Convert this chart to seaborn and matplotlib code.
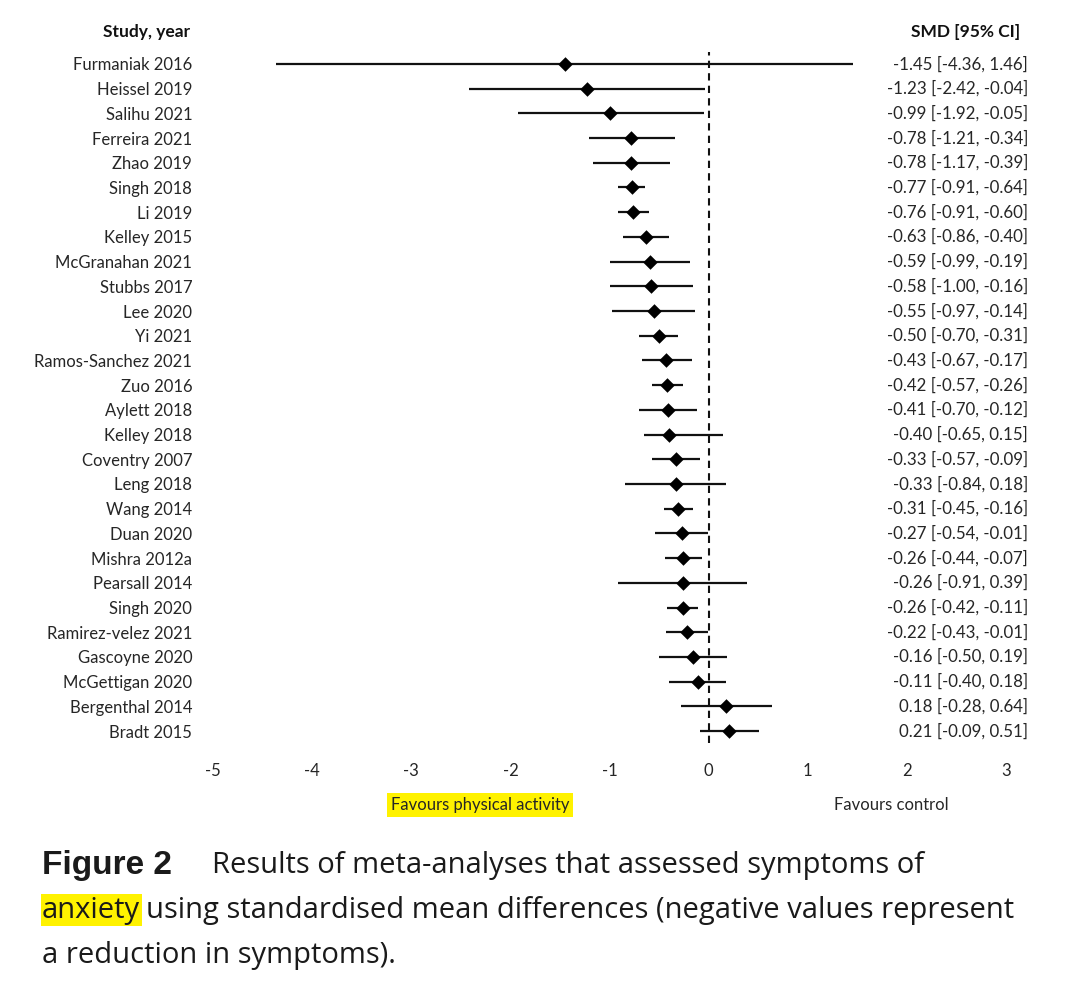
import matplotlib
matplotlib.use("Agg")
import matplotlib.pyplot as plt
import matplotlib.transforms as mtransforms
import seaborn as sns
import pandas as pd

studies = ["Furmaniak 2016", "Heissel 2019", "Salihu 2021", "Ferreira 2021", "Zhao 2019",
           "Singh 2018", "Li 2019", "Kelley 2015", "McGranahan 2021", "Stubbs 2017",
           "Lee 2020", "Yi 2021", "Ramos-Sanchez 2021", "Zuo 2016", "Aylett 2018",
           "Kelley 2018", "Coventry 2007", "Leng 2018", "Wang 2014", "Duan 2020",
           "Mishra 2012a", "Pearsall 2014", "Singh 2020", "Ramirez-velez 2021",
           "Gascoyne 2020", "McGettigan 2020", "Bergenthal 2014", "Bradt 2015"]
smd = [-1.45, -1.23, -0.99, -0.78, -0.78, -0.77, -0.76, -0.63, -0.59, -0.58,
       -0.55, -0.50, -0.43, -0.42, -0.41, -0.40, -0.33, -0.33, -0.31, -0.27,
       -0.26, -0.26, -0.26, -0.22, -0.16, -0.11, 0.18, 0.21]
ci_low = [-4.36, -2.42, -1.92, -1.21, -1.17, -0.91, -0.91, -0.86, -0.99, -1.00,
          -0.97, -0.70, -0.67, -0.57, -0.70, -0.65, -0.57, -0.84, -0.45, -0.54,
          -0.44, -0.91, -0.42, -0.43, -0.50, -0.40, -0.28, -0.09]
ci_high = [1.46, -0.04, -0.05, -0.34, -0.39, -0.64, -0.60, -0.40, -0.19, -0.16,
           -0.14, -0.31, -0.17, -0.26, -0.12, 0.15, -0.09, 0.18, -0.16, -0.01,
           -0.07, 0.39, -0.11, -0.01, 0.19, 0.18, 0.64, 0.51]
x_ticks = [-5, -4, -3, -2, -1, 0, 1, 2, 3]

df = pd.DataFrame({"study": studies, "smd": smd, "lo": ci_low, "hi": ci_high})
df["pos"] = range(len(df))

sns.set_style("white")
FONT = ["Lato", "DejaVu Sans"]
CAP = ["Open Sans", "DejaVu Sans"]
plt.rcParams["font.family"] = FONT
TXT = "#262626"

W, H = 1072, 997
fig = plt.figure(figsize=(W / 100, H / 100), dpi=100)
left, right = 213 / W, 1006 / W
top, bottom = 1 - 51.6 / H, 1 - 743.4 / H
ax = fig.add_axes([left, bottom, right - left, top - bottom])

ax.hlines(df["pos"], df["lo"], df["hi"], color="#111111", lw=1.6, zorder=2)
sns.scatterplot(data=df, x="smd", y="pos", marker="D", s=55, color="black",
                edgecolor="black", linewidth=0, ax=ax, zorder=3, legend=False)
ax.axvline(0, color="#111111", lw=1.5, ls=(0, (3.5, 2.5)), zorder=1)

ax.set_xlim(-5, 3)
ax.set_ylim(len(df) - 0.5, -0.5)
ax.set_xticks(x_ticks)
ax.set_xticklabels([str(t) for t in x_ticks])
ax.set_yticks(df["pos"])
ax.set_yticklabels(df["study"])
ax.tick_params(axis="y", length=0, pad=15, labelsize=12, labelcolor=TXT)
ax.tick_params(axis="x", length=0, pad=14, labelsize=12, labelcolor=TXT)
ax.set_xlabel("")
ax.set_ylabel("")
for s in ax.spines.values():
    s.set_visible(False)

trans = mtransforms.blended_transform_factory(ax.transAxes, ax.transData)
xr = (1028 - 213) / (1006 - 213)
for i, r in df.iterrows():
    ax.text(xr, r["pos"], f"{r['smd']:.2f} [{r['lo']:.2f}, {r['hi']:.2f}]",
            transform=trans, ha="right", va="center", fontsize=12.2, color=TXT)

fig.text(190 / W, 1 - 32 / H, "Study, year", ha="right", va="center",
         fontsize=12.5, fontweight="bold", color="#111111")
fig.text(1020 / W, 1 - 32 / H, "SMD [95% CI]", ha="right", va="center",
         fontsize=12.5, fontweight="bold", color="#111111")

fig.text(480 / W, 1 - 805 / H, "Favours physical activity", ha="center", va="center",
         fontsize=12, color=TXT,
         bbox=dict(facecolor="#FFF200", edgecolor="none", pad=3))
fig.text(891 / W, 1 - 805 / H, "Favours control", ha="center", va="center",
         fontsize=12, color=TXT)

# Caption
fig.canvas.draw()
renderer = fig.canvas.get_renderer()
CS = 21


def put(x_px, y_px, s, fam=CAP, size=CS, **kw):
    t = fig.text(x_px / W, 1 - y_px / H, s, ha="left", va="center",
                 fontsize=size, color="#1a1a1a", family=fam, **kw)
    bb = t.get_window_extent(renderer=renderer)
    return bb.x1


x = put(42, 865, "Figure 2", fam=["Liberation Sans", "DejaVu Sans"], size=24,
        fontweight="bold")
put(x + 40, 865, "Results of meta-analyses that assessed symptoms of")
x = put(42, 910, "anxiety", bbox=dict(facecolor="#FFF200", edgecolor="none", pad=1))
put(x + 6, 910, "using standardised mean differences (negative values represent")
put(42, 955, "a reduction in symptoms).")

fig.savefig("out.png", dpi=100)
